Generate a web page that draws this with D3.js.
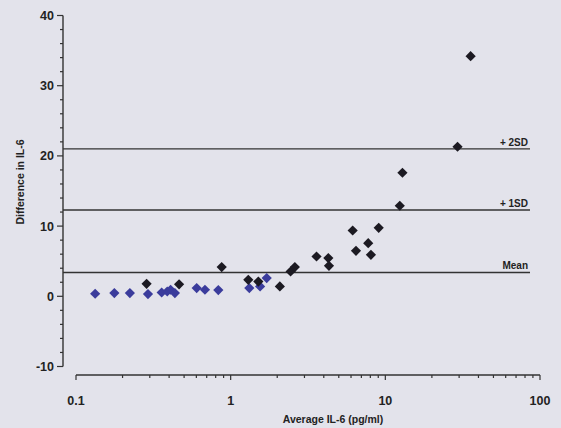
<!DOCTYPE html>
<html>
<head>
<meta charset="utf-8">
<script src="https://cdn.jsdelivr.net/npm/d3@7"></script>
<style>
    body { margin: 0; background: #e3e3eb; }
    #chart-area { width: 561px; height: 428px; }
    text { font-family: "Liberation Sans", Arial, sans-serif; font-weight: bold; fill: #222; }
</style>
</head>
<body>
<div id="chart-area"></div>
<script>

// black diamonds (average, difference)
let blackAvg  = [0.286, 0.464, 0.875, 1.30, 1.51, 2.08, 2.44, 2.60, 3.59, 4.28, 4.32, 6.15, 6.46, 7.75, 8.07, 9.06, 12.4, 12.9, 29.3, 35.6]
let blackDiff = [1.78, 1.71, 4.16, 2.35, 2.10, 1.40, 3.53, 4.16, 5.67, 5.44, 4.34, 9.37, 6.48, 7.57, 5.91, 9.75, 12.9, 17.6, 21.3, 34.2]

// blue diamonds
let blueAvg  = [0.133, 0.177, 0.223, 0.292, 0.358, 0.389, 0.409, 0.436, 0.603, 0.682, 0.832, 1.32, 1.55, 1.71]
let blueDiff = [0.36, 0.46, 0.46, 0.31, 0.54, 0.68, 0.93, 0.46, 1.17, 0.93, 0.88, 1.17, 1.40, 2.59]

// reference lines
let refNames  = ['Mean', '+ 1SD', '+ 2SD']
let refValues = [3.4, 12.3, 21.0]

let xTicks = [0.1, 1, 10, 100]
let yTicks = [-10, 0, 10, 20, 30, 40]


class BlandAltmanVis {

    constructor(parentElement) {
        this.parentElement = parentElement;
        this.initVis()
    }

    initVis() {
        let vis = this;

        vis.width = 561;
        vis.height = 428;

        vis.svg = d3.select("#" + vis.parentElement).append("svg")
            .attr("width", vis.width)
            .attr("height", vis.height)

        // scales (axes are offset like the original)
        vis.x = d3.scaleLog().domain([0.1, 100]).range([76, 540])
        vis.y = d3.scaleLinear().domain([-10, 40]).range([366.5, 15.5])
        vis.yAxisX = 63
        vis.xAxisY = 375

        vis.drawAxes()
        vis.drawLines()
        vis.drawPoints()
    }

    drawAxes() {
        let vis = this;

        // y axis
        let yAxis = vis.svg.append('g')
            .attr('transform', `translate(${vis.yAxisX},0)`)

        yAxis.append('line')
            .attr('y1', vis.y(-10)).attr('y2', vis.y(40))
            .attr('stroke', '#333').attr('stroke-width', 1.4)

        yAxis.selectAll('.minor').data(d3.range(-10, 41, 2))
            .enter().append('line')
            .attr('x1', d => d % 10 === 0 ? -6 : -3).attr('x2', 0)
            .attr('y1', d => vis.y(d)).attr('y2', d => vis.y(d))
            .attr('stroke', '#333').attr('stroke-width', 1.2)

        yAxis.selectAll('.lab').data(yTicks)
            .enter().append('text')
            .attr('x', -9)
            .attr('y', d => vis.y(d) + 4.5)
            .attr('text-anchor', 'end')
            .style('font-size', '12.5px')
            .text(d => d)

        vis.svg.append('text')
            .attr('transform', `translate(24,182) rotate(-90)`)
            .attr('text-anchor', 'middle')
            .style('font-size', '10.5px')
            .text('Difference in IL-6')

        // x axis
        let xAxis = vis.svg.append('g')
            .attr('transform', `translate(0,${vis.xAxisY})`)

        xAxis.append('line')
            .attr('x1', vis.x(0.1)).attr('x2', vis.x(100))
            .attr('stroke', '#333').attr('stroke-width', 1.4)

        let minorX = []
        xTicks.slice(0, 3).forEach(t => d3.range(1, 10).forEach(k => minorX.push(t * k)))
        minorX.push(100)

        xAxis.selectAll('.minor').data(minorX)
            .enter().append('line')
            .attr('x1', d => vis.x(d)).attr('x2', d => vis.x(d))
            .attr('y1', 0)
            .attr('y2', d => xTicks.includes(d) ? 5 : 3)
            .attr('stroke', '#333').attr('stroke-width', 1.2)

        xAxis.selectAll('.lab').data(xTicks)
            .enter().append('text')
            .attr('x', d => vis.x(d))
            .attr('y', 30)
            .attr('text-anchor', 'middle')
            .style('font-size', '12.5px')
            .text(d => d)

        vis.svg.append('text')
            .attr('x', 333)
            .attr('y', 423)
            .attr('text-anchor', 'middle')
            .style('font-size', '10.5px')
            .text('Average IL-6 (pg/ml)')
    }

    drawLines() {
        let vis = this;

        let refData = refValues.map((v, i) => ({value: v, name: refNames[i]}))

        vis.svg.selectAll('.ref').data(refData)
            .enter().append('line')
            .attr('x1', vis.yAxisX).attr('x2', 530)
            .attr('y1', d => vis.y(d.value)).attr('y2', d => vis.y(d.value))
            .attr('stroke', '#333').attr('stroke-width', 1.4)

        vis.svg.selectAll('.refLabel').data(refData)
            .enter().append('text')
            .attr('x', 528)
            .attr('y', d => vis.y(d.value) - 3)
            .attr('text-anchor', 'end')
            .style('font-size', '10px')
            .text(d => d.name)
    }

    drawPoints() {
        let vis = this;

        let diamond = d3.symbol().type(d3.symbolSquare).size(52)

        let blueData = blueAvg.map((a, i) => ({avg: a, diff: blueDiff[i]}))
        let blackData = blackAvg.map((a, i) => ({avg: a, diff: blackDiff[i]}))

        vis.svg.selectAll('.blue').data(blueData)
            .enter().append('path')
            .attr('d', diamond)
            .attr('transform', d => `translate(${vis.x(d.avg)},${vis.y(d.diff)}) rotate(45)`)
            .attr('fill', '#3b3c9c')

        vis.svg.selectAll('.black').data(blackData)
            .enter().append('path')
            .attr('d', diamond)
            .attr('transform', d => `translate(${vis.x(d.avg)},${vis.y(d.diff)}) rotate(45)`)
            .attr('fill', '#1c1a22')
    }
}

new BlandAltmanVis('chart-area')
</script>
</body>
</html>
